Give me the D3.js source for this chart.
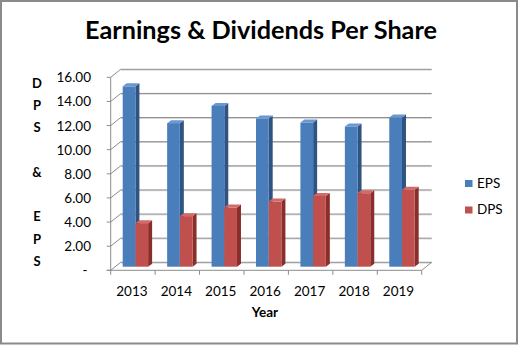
<!DOCTYPE html>
<html><head><meta charset="utf-8">
<script src="https://cdn.jsdelivr.net/npm/d3@7"></script>
<style>html,body{margin:0;padding:0;background:#fff;}svg{display:block;font-family:Lato,"Open Sans",sans-serif;}</style>
</head><body>
<svg id="c" width="518" height="345"></svg>
<script>
const years = ["2013","2014","2015","2016","2017","2018","2019"];
const eps = [14.95, 11.9, 13.33, 12.28, 11.95, 11.62, 12.36];
const dps = [3.61, 4.19, 4.9, 5.4, 5.87, 6.09, 6.37];
const seriesNames = ["EPS","DPS"];
const yTicks = [0,2,4,6,8,10,12,14,16];
const yTitleLetters = ["D","P","S","","&","","E","P","S"];

const colors = {
  EPS: {front:"#4a7ebb", side:"#2f5382", top:"#6a98d2"},
  DPS: {front:"#c0504d", side:"#8a2e2c", top:"#d46a67"}
};

const svg = d3.select("#c");
const W = 518, H = 345;
// frame
svg.append("rect").attr("x",1).attr("y",1).attr("width",516).attr("height",342.5)
  .attr("fill","#fff").attr("stroke","#8a8a8a").attr("stroke-width",2);

// 3D geometry
const DX = 10, DY = -8;          // depth of plot box
const x = d3.scaleBand().domain(years).range([110.7, 421.7]);
const y = d3.scaleLinear().domain([0,16]).range([270.3, 77.3]);
const bw = x.bandwidth();
const xs = d3.scaleBand().domain(seriesNames).range([bw*0.214, bw*0.786]);
const bDX = 2.5, bDY = -3.6;     // bar front plane offset
const sDX = 4, sDY = -3;         // bar depth
const x0 = x.range()[0], x1 = x.range()[1];

const grid = svg.append("g").attr("fill","none");
// back wall gridlines + left wall diagonals
yTicks.forEach(t => {
  const yf = y(t);
  grid.append("line").attr("x1",x0+DX).attr("x2",x1+DX).attr("y1",yf+DY+0.8).attr("y2",yf+DY+0.8)
    .attr("stroke","#d4d4d4").attr("stroke-width",1);
  grid.append("line").attr("x1",x0+DX).attr("x2",x1+DX).attr("y1",yf+DY).attr("y2",yf+DY)
    .attr("stroke","#8c8c8c").attr("stroke-width",1);
  grid.append("line").attr("x1",x0).attr("x2",x0+DX).attr("y1",yf).attr("y2",yf+DY)
    .attr("stroke","#8c8c8c").attr("stroke-width",1);
  grid.append("line").attr("x1",x0-4).attr("x2",x0).attr("y1",yf).attr("y2",yf)
    .attr("stroke","#8c8c8c").attr("stroke-width",1);
});
// left axis line
grid.append("line").attr("x1",x0).attr("x2",x0).attr("y1",y(0)).attr("y2",y(16))
  .attr("stroke","#8c8c8c").attr("stroke-width",1);
// floor
grid.append("line").attr("x1",x0-4).attr("x2",x1).attr("y1",y(0)).attr("y2",y(0))
  .attr("stroke","#8c8c8c").attr("stroke-width",1);
grid.append("line").attr("x1",x1).attr("x2",x1+DX).attr("y1",y(0)).attr("y2",y(0)+DY)
  .attr("stroke","#8c8c8c").attr("stroke-width",1);
// category ticks
const catEdges = years.map(d => x(d)).concat([x1]);
catEdges.forEach(cx => {
  grid.append("line").attr("x1",cx).attr("x2",cx).attr("y1",y(0)).attr("y2",y(0)+4.5)
    .attr("stroke","#8c8c8c").attr("stroke-width",1);
});

// bars
const bars = svg.append("g");
const data = [];
years.forEach((yr,i) => {
  data.push({yr, s:"EPS", v:eps[i]});
  data.push({yr, s:"DPS", v:dps[i]});
});
const bwS = xs.bandwidth();
data.forEach(d => {
  const L = x(d.yr) + xs(d.s) + bDX;
  const R = L + bwS;
  const B = y(0) + bDY;
  const T = y(d.v) + bDY;
  const c = colors[d.s];
  const g = bars.append("g");
  g.append("path").attr("d",`M${R},${B}L${R+sDX},${B+sDY}L${R+sDX},${T+sDY}L${R},${T}Z`).attr("fill",c.side);
  g.append("path").attr("d",`M${L},${T}L${L+sDX},${T+sDY}L${R+sDX},${T+sDY}L${R},${T}Z`).attr("fill",c.top);
  g.append("rect").attr("x",L).attr("y",T).attr("width",bwS).attr("height",B-T).attr("fill",c.front);
});

// y tick labels
const lab = svg.append("g").attr("font-size",13.5).attr("fill","#000");
yTicks.forEach(t => {
  lab.append("text").attr("x", t===0 ? 87.5 : 91).attr("y", y(t)+5)
    .attr("text-anchor","end").text(t===0 ? "-" : t.toFixed(2));
});
// x labels
years.forEach(yr => {
  lab.append("text").attr("x", x(yr)+bw/2 - 1).attr("y", 296)
    .attr("text-anchor","middle").text(yr);
});
// axis titles
svg.append("text").attr("x",265).attr("y",317).attr("text-anchor","middle")
  .attr("font-size",13.5).attr("font-weight","bold").text("Year");
yTitleLetters.forEach((ch,i) => {
  svg.append("text").attr("x",37).attr("y",87.5 + i*22.3).attr("text-anchor","middle")
    .attr("font-size",13).attr("font-weight","bold").text(ch);
});
// title
const title = svg.append("text").attr("x",261).attr("y",38.5).attr("text-anchor","middle")
  .attr("font-size",24).attr("font-weight","bold").text("Earnings & Dividends Per Share");
const tw = title.node().getComputedTextLength();
title.attr("font-size", 24*352/tw);

// legend
const leg = svg.append("g");
seriesNames.forEach((s,i) => {
  leg.append("rect").attr("x",465).attr("y",180 + i*26.5).attr("width",7.5).attr("height",7)
    .attr("fill",colors[s].front);
  leg.append("text").attr("x",477).attr("y",187.8 + i*26.5).attr("font-size",13.5).text(s);
});
</script>
</body></html>
